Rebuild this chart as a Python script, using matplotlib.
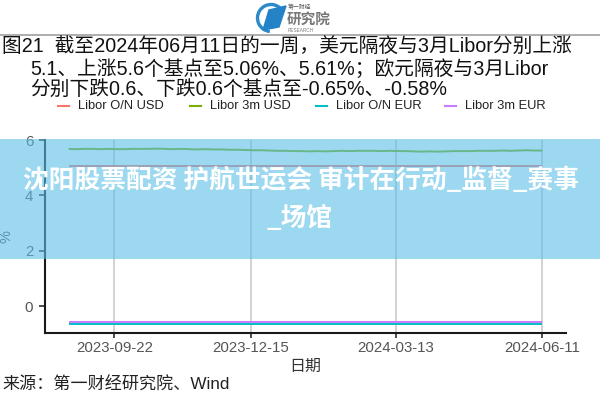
import matplotlib
matplotlib.use("Agg")
import matplotlib.pyplot as plt
import pandas as pd
from matplotlib.patches import Rectangle, Polygon, Arc

# ---------------- data ----------------
series_names = ["Libor O/N USD", "Libor 3m USD", "Libor O/N EUR", "Libor 3m EUR"]
series_colors = ["#F8766D", "#7CAE00", "#00BFC4", "#C77CFF"]
start_date = "2023-08-25"
end_date = "2024-06-11"
n_points = 60
libor_on_usd = [
    5.06, 5.06, 5.06, 5.06, 5.06, 5.06, 5.06, 5.06, 5.06, 5.06,
    5.06, 5.06, 5.06, 5.06, 5.06, 5.06, 5.06, 5.06, 5.06, 5.06,
    5.06, 5.06, 5.06, 5.06, 5.06, 5.06, 5.06, 5.06, 5.06, 5.06,
    5.06, 5.06, 5.06, 5.06, 5.06, 5.06, 5.06, 5.06, 5.06, 5.06,
    5.06, 5.06, 5.06, 5.06, 5.06, 5.06, 5.06, 5.06, 5.06, 5.06,
    5.06, 5.06, 5.06, 5.06, 5.06, 5.06, 5.06, 5.06, 5.06, 5.06]
libor_3m_usd = [
    5.68, 5.67, 5.68, 5.68, 5.67, 5.68, 5.67, 5.67, 5.68, 5.68,
    5.68, 5.69, 5.68, 5.67, 5.68, 5.67, 5.66, 5.67, 5.66, 5.66,
    5.65, 5.65, 5.64, 5.63, 5.63, 5.62, 5.61, 5.61, 5.60, 5.60,
    5.59, 5.60, 5.59, 5.60, 5.61, 5.60, 5.61, 5.61, 5.61, 5.60,
    5.61, 5.60, 5.60, 5.59, 5.58, 5.59, 5.58, 5.59, 5.60, 5.60,
    5.60, 5.61, 5.61, 5.61, 5.62, 5.61, 5.62, 5.63, 5.62, 5.62]
libor_on_eur = [
    -0.65, -0.65, -0.65, -0.65, -0.65, -0.65, -0.65, -0.65, -0.65, -0.65,
    -0.65, -0.65, -0.65, -0.65, -0.65, -0.65, -0.65, -0.65, -0.65, -0.65,
    -0.65, -0.65, -0.65, -0.65, -0.65, -0.65, -0.65, -0.65, -0.65, -0.65,
    -0.65, -0.65, -0.65, -0.65, -0.65, -0.65, -0.65, -0.65, -0.65, -0.65,
    -0.65, -0.65, -0.65, -0.65, -0.65, -0.65, -0.65, -0.65, -0.65, -0.65,
    -0.65, -0.65, -0.65, -0.65, -0.65, -0.65, -0.65, -0.65, -0.65, -0.65]
libor_3m_eur = [
    -0.58, -0.58, -0.58, -0.58, -0.58, -0.58, -0.58, -0.58, -0.58, -0.58,
    -0.58, -0.58, -0.58, -0.58, -0.58, -0.58, -0.58, -0.58, -0.58, -0.58,
    -0.58, -0.58, -0.58, -0.58, -0.58, -0.58, -0.58, -0.58, -0.58, -0.58,
    -0.58, -0.58, -0.58, -0.58, -0.58, -0.58, -0.58, -0.58, -0.58, -0.58,
    -0.58, -0.58, -0.58, -0.58, -0.58, -0.58, -0.58, -0.58, -0.58, -0.58,
    -0.58, -0.58, -0.58, -0.58, -0.58, -0.58, -0.58, -0.58, -0.58, -0.58]
x_tick_labels = ["2023-09-22", "2023-12-15", "2024-03-13", "2024-06-11"]
y_ticks = [0, 2, 4, 6]

title_lines = [
    "图21  截至2024年06月11日的一周，美元隔夜与3月Libor分别上涨",
    "5.1、上涨5.6个基点至5.06%、5.61%；欧元隔夜与3月Libor",
    "分别下跌0.6、下跌0.6个基点至-0.65%、-0.58%",
]
source_text = "来源：第一财经研究院、Wind"
banner_lines = ["沈阳股票配资 护航世运会 审计在行动_监督_赛事", "_场馆"]

# ---------------- figure ----------------
FONTS = ["Liberation Sans", "Noto Sans CJK SC", "DejaVu Sans"]
plt.rcParams["font.family"] = FONTS

W, H = 600, 400
fig = plt.figure(figsize=(6, 4), dpi=100)
fig.patch.set_facecolor("white")

def fx(x):
    return x / W

def fy(y):
    return 1 - y / H

ax_l, ax_r, ax_t, ax_b = 45, 566, 140, 333
ax = fig.add_axes([fx(ax_l), fy(ax_b), fx(ax_r - ax_l), (ax_b - ax_t) / H])

dates = pd.date_range(start_date, end_date, periods=n_points)
all_series = [libor_on_usd, libor_3m_usd, libor_on_eur, libor_3m_eur]
for vals, c in zip(all_series, series_colors):
    ax.plot(dates, vals, color=c, lw=1.4, solid_capstyle="butt", zorder=3)

xt = pd.to_datetime(x_tick_labels)
ax.set_xticks(xt)
ax.set_xticklabels(x_tick_labels)
span = (pd.Timestamp(end_date) - pd.Timestamp(start_date)) * 0.05
ax.set_xlim(pd.Timestamp(start_date) - span, pd.Timestamp(end_date) + span)
ax.set_ylim(-0.96, 6.0)
ax.set_yticks(y_ticks)
ax.set_yticklabels([str(v) for v in y_ticks])

ax.grid(axis="x", color="#CFCFCF", lw=1.3, zorder=0)
ax.grid(axis="y", visible=False)
for s in ["top", "right"]:
    ax.spines[s].set_visible(False)
for s in ["left", "bottom"]:
    ax.spines[s].set_linewidth(1.5)
    ax.spines[s].set_color("#1a1a1a")
ax.tick_params(axis="x", length=3.5, width=1.1, color="#1a1a1a",
               labelsize=10.8, labelcolor="#555555", pad=2)
ax.tick_params(axis="y", length=4.5, width=1.1, color="#1a1a1a",
               labelsize=10.8, labelcolor="#555555", pad=4)
ax.set_xlabel("日期", fontsize=11.5, color="#333333", labelpad=2,
              family=["Noto Sans CJK SC", "DejaVu Sans"])
ax.set_ylabel("%", fontsize=10.5, color="#555555", labelpad=8)

# ---------------- header ----------------
ax_o = fig.add_axes([0, 0, 1, 1], facecolor="none")
ax_o.set_xlim(0, W)
ax_o.set_ylim(H, 0)
ax_o.axis("off")

# logo
cx, cy, r = 271, 18, 13.5
ax_o.add_patch(Arc((cx, cy), 2 * r, 2 * r, theta1=95, theta2=335,
                   color="#2C8ACB", lw=2.4))
ax_o.add_patch(Polygon([(263, 30), (269, 10), (286, 6), (279, 27)],
                       closed=True, color="#2383C6"))
ax_o.text(288, 7, "第一财经", fontsize=4.2, color="#555555", va="center",
          ha="left", family=["Noto Sans CJK SC"])
ax_o.text(287, 19, "研究院", fontsize=10.5, color="#777777", va="center",
          ha="left", family=["Noto Sans CJK SC"], fontweight="bold")
ax_o.text(288, 30, "RESEARCH", fontsize=3.3, color="#777777", va="center",
          ha="left")
ax_o.plot([0, W], [35, 35], color="#A0A0A0", lw=1.2)

tfam = ["Liberation Sans", "Noto Sans CJK SC"]
ax_o.text(2, 46.5, title_lines[0], fontsize=14.2, color="#111111",
          va="center", ha="left", family=tfam)
ax_o.text(30, 68.5, title_lines[1], fontsize=14.2, color="#111111",
          va="center", ha="left", family=tfam)
ax_o.text(30, 89.5, title_lines[2], fontsize=14.2, color="#111111",
          va="center", ha="left", family=tfam)

# legend
leg_x = [58, 190, 316, 445]
for name, c, lx in zip(series_names, series_colors, leg_x):
    ax_o.plot([lx, lx + 11], [106, 106], color=c, lw=1.5)
    ax_o.text(lx + 20, 106, name, fontsize=9.3, color="#222222",
              va="center", ha="left")

# source
ax_o.text(2, 385, source_text, fontsize=12.3, color="#222222",
          va="center", ha="left", family=tfam)

# ---------------- banner overlay ----------------
ax_o.add_patch(Rectangle((0, 139), W, 120, color="#5ABEE6", alpha=0.6,
                         lw=0, zorder=10))
ax_o.text(301, 181, banner_lines[0], fontsize=18.5, color="white",
          fontweight="bold", ha="center", va="center", zorder=11,
          family=["Noto Sans CJK SC", "DejaVu Sans"])
ax_o.text(300, 219, banner_lines[1], fontsize=18.5, color="white",
          fontweight="bold", ha="center", va="center", zorder=11,
          family=["Noto Sans CJK SC", "DejaVu Sans"])

fig.savefig("out.png", dpi=100)
